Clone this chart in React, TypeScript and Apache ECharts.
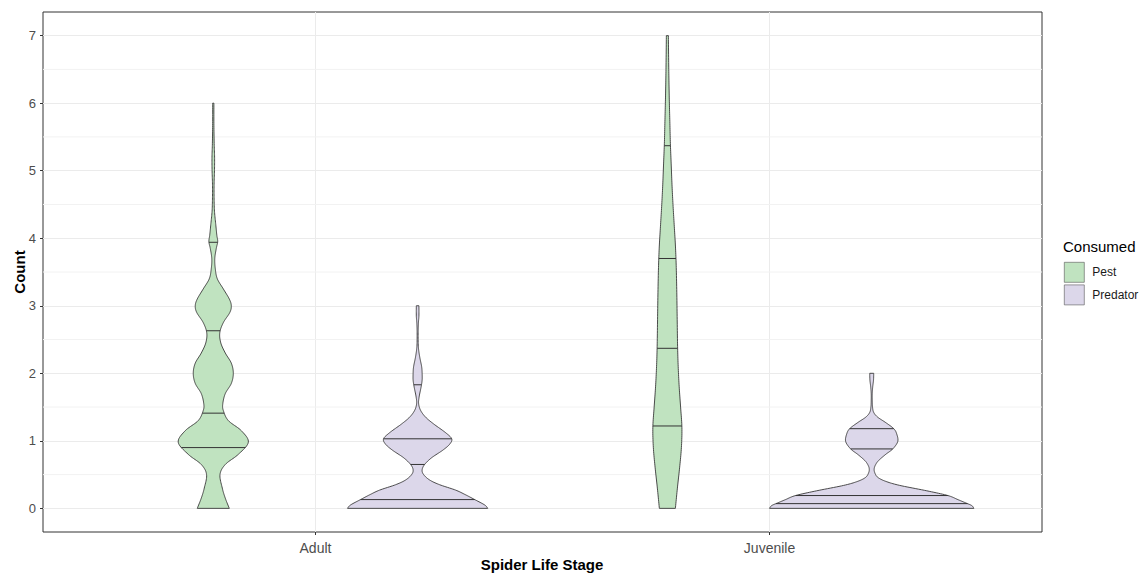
import React, { useEffect, useRef } from "react";
import * as echarts from "echarts";

// ---------- data ----------
const STAGES = ["Adult", "Juvenile"];
const GROUPS = ["Pest", "Predator"];
const Y_TICKS = [0, 1, 2, 3, 4, 5, 6, 7];
const Y_MINOR = [0.5, 1.5, 2.5, 3.5, 4.5, 5.5, 6.5];

// violin profiles: [count, relative half-width (density)]
const ADULT_PEST: [number, number][] = [
  [0, 16], [0.15, 12], [0.3, 9], [0.5, 6.7], [0.65, 12], [0.8, 25], [0.98, 35],
  [1.15, 28], [1.3, 15], [1.45, 10], [1.55, 9.5], [1.7, 12], [1.85, 18], [2.0, 20],
  [2.15, 18], [2.3, 12], [2.45, 7.5], [2.6, 6.5], [2.75, 10], [2.9, 16.5], [3.0, 18],
  [3.1, 16], [3.25, 10], [3.4, 4], [3.55, 2], [3.7, 1.5], [3.85, 3], [3.95, 4.4],
  [4.05, 3.5], [4.2, 2.5], [4.4, 1.2], [4.6, 0.8], [4.8, 0.8], [5.0, 1.2], [5.2, 1.3],
  [5.4, 0.9], [5.7, 0.6], [6.0, 0.6],
];
const ADULT_PREDATOR: [number, number][] = [
  [0, 70], [0.05, 67], [0.13, 57], [0.2, 48], [0.27, 38], [0.35, 22], [0.42, 12],
  [0.5, 6], [0.57, 4.5], [0.65, 7], [0.75, 14], [0.86, 25], [0.95, 32], [1.03, 34],
  [1.12, 28], [1.25, 16], [1.35, 8], [1.45, 3], [1.55, 1], [1.65, 1.5], [1.8, 3.5],
  [1.9, 4.5], [2.0, 4.5], [2.1, 4], [2.25, 2], [2.4, 0.7], [2.6, 0.5], [2.75, 0.8],
  [2.85, 1.3], [3.0, 1.3],
];
const JUVENILE_PEST: [number, number][] = [
  [0, 8], [0.3, 10], [0.6, 12.2], [0.9, 14], [1.2, 14.5], [1.5, 13.2], [1.8, 11.8],
  [2.1, 10.8], [2.4, 10.2], [2.8, 9.8], [3.2, 9.4], [3.6, 8.8], [3.9, 8], [4.2, 6.8],
  [4.5, 5.6], [4.8, 4.6], [5.1, 3.8], [5.4, 3], [5.7, 2.5], [6.0, 2], [6.3, 1.6],
  [6.6, 1.3], [7.0, 1],
];
const JUVENILE_PREDATOR: [number, number][] = [
  [0, 102], [0.04, 100], [0.08, 94], [0.13, 86], [0.19, 76], [0.26, 55], [0.34, 28],
  [0.4, 14], [0.46, 6], [0.53, 3], [0.59, 2.5], [0.65, 4], [0.71, 7], [0.8, 14],
  [0.88, 21], [0.99, 26], [1.1, 25], [1.18, 22], [1.27, 14], [1.35, 6], [1.42, 2],
  [1.5, 0.8], [1.6, 0.5], [1.7, 0.5], [1.8, 1], [1.9, 1.8], [2.0, 2],
];

// horizontal quantile lines inside each violin (count values)
const Q_ADULT_PEST = [0.9, 1.41, 2.63, 3.94];
const Q_ADULT_PREDATOR = [0.13, 0.65, 1.03, 1.83];
const Q_JUVENILE_PEST = [1.22, 2.37, 3.7, 5.37];
const Q_JUVENILE_PREDATOR = [0.07, 0.19, 0.88, 1.18];

const PROFILES: Record<string, [number, number][][]> = {
  Pest: [ADULT_PEST, JUVENILE_PEST],
  Predator: [ADULT_PREDATOR, JUVENILE_PREDATOR],
};
const QUANTILES: Record<string, number[][]> = {
  Pest: [Q_ADULT_PEST, Q_JUVENILE_PEST],
  Predator: [Q_ADULT_PREDATOR, Q_JUVENILE_PREDATOR],
};

// ---------- styling ----------
const FILLS: Record<string, string> = { Pest: "#C0E3C0", Predator: "#DCD7EA" };
const FONT = "'Liberation Sans', Arial, sans-serif";
const DODGE = 0.9;

const MAXD = Math.max(
  ...Object.values(PROFILES).flatMap((arr) => arr.flatMap((p) => p.map((d) => d[1])))
);

function cr(p0: number, p1: number, p2: number, p3: number, t: number) {
  const t2 = t * t;
  const t3 = t2 * t;
  return 0.5 * (2 * p1 + (-p0 + p2) * t + (2 * p0 - 5 * p1 + 4 * p2 - p3) * t2 + (-p0 + 3 * p1 - 3 * p2 + p3) * t3);
}

function dense(profile: [number, number][]) {
  const out: [number, number][] = [];
  const n = profile.length;
  for (let i = 0; i < n - 1; i++) {
    const a = profile[Math.max(0, i - 1)];
    const b = profile[i];
    const c = profile[i + 1];
    const d = profile[Math.min(n - 1, i + 2)];
    for (let k = 0; k < 10; k++) {
      const t = k / 10;
      const y = cr(a[0], b[0], c[0], d[0], t);
      const w = Math.max(0.35, cr(a[1], b[1], c[1], d[1], t));
      out.push([y, w]);
    }
  }
  out.push([profile[n - 1][0], Math.max(0.35, profile[n - 1][1])]);
  return out;
}

function widthAt(pts: [number, number][], y: number) {
  for (let i = 0; i < pts.length - 1; i++) {
    const [y0, w0] = pts[i];
    const [y1, w1] = pts[i + 1];
    if (y >= y0 && y <= y1) {
      const t = y1 === y0 ? 0 : (y - y0) / (y1 - y0);
      return w0 + (w1 - w0) * t;
    }
  }
  return pts[pts.length - 1][1];
}

function makeViolinSeries(group: string, gi: number) {
  const offset = (gi - 0.5) * (DODGE / 2);
  const halfMax = DODGE / 4;
  return {
    type: "custom",
    name: group,
    z: 3,
    clip: false,
    itemStyle: { color: FILLS[group], borderColor: "#555", borderWidth: 0.6 },
    data: STAGES.map((_, i) => [i + 1 + offset, 1]),
    renderItem: (params: any, api: any) => {
      const idx = params.dataIndex;
      const pts = dense(PROFILES[group][idx]);
      const cx = idx + 1 + offset;
      const sc = halfMax / MAXD;
      const right = pts.map(([y, w]) => api.coord([cx + w * sc, y]));
      const left = pts
        .slice()
        .reverse()
        .map(([y, w]) => api.coord([cx - w * sc, y]));
      const children: any[] = [
        {
          type: "polygon",
          shape: { points: right.concat(left) },
          style: { fill: FILLS[group], stroke: "#383838", lineWidth: 0.9 },
        },
      ];
      QUANTILES[group][idx].forEach((q) => {
        const w = widthAt(pts, q);
        const p1 = api.coord([cx - w * sc, q]);
        const p2 = api.coord([cx + w * sc, q]);
        children.push({
          type: "line",
          shape: { x1: p1[0], y1: p1[1], x2: p2[0], y2: p2[1] },
          style: { stroke: "#333", lineWidth: 1 },
        });
      });
      return { type: "group", children };
    },
  };
}

export default function App() {
  const ref = useRef<HTMLDivElement>(null);
  useEffect(() => {
    if (!ref.current) return;
    const chart = echarts.init(ref.current, undefined, { renderer: "svg" });
    const option: any = {
      animation: false,
      backgroundColor: "#ffffff",
      textStyle: { fontFamily: FONT },
      grid: {
        left: 43,
        top: 12,
        right: 103,
        bottom: 41,
        show: true,
        borderColor: "#333333",
        borderWidth: 1,
        backgroundColor: "transparent",
      },
      xAxis: {
        type: "value",
        min: 0.4,
        max: 2.6,
        axisLine: { show: false, onZero: false },
        axisTick: { show: true, length: 3, lineStyle: { color: "#333" }, customValues: [1, 2] },
        axisLabel: {
          show: true,
          customValues: [1, 2],
          formatter: (v: number) => STAGES[Math.round(v) - 1] ?? "",
          color: "#4D4D4D",
          fontSize: 14,
          margin: 9,
          fontFamily: FONT,
        },
        splitLine: { show: true, lineStyle: { color: "#EBEBEB", width: 1 } },
      },
      yAxis: {
        type: "value",
        min: -0.35,
        max: 7.35,
        axisLine: { show: false, onZero: false },
        axisTick: { show: true, length: 3, lineStyle: { color: "#333" }, customValues: Y_TICKS },
        axisLabel: {
          show: true,
          customValues: Y_TICKS,
          color: "#4D4D4D",
          fontSize: 13,
          margin: 7,
          fontFamily: FONT,
        },
        splitLine: { show: true, lineStyle: { color: "#EBEBEB", width: 1 } },
      },
      legend: {
        data: GROUPS,
        orient: "vertical",
        left: 1064,
        top: 262,
        padding: 0,
        itemWidth: 20,
        itemHeight: 20,
        itemGap: 2,
        icon: "rect",
        itemStyle: { borderColor: "#555", borderWidth: 0.6 },
        textStyle: { fontSize: 12, color: "#1a1a1a", fontFamily: FONT, padding: [0, 0, 0, 3] },
        selectedMode: false,
      },
      graphic: [
        {
          type: "text",
          left: 1063,
          top: 239,
          style: { text: "Consumed", fontSize: 15, fill: "#000", fontFamily: FONT },
        },
        {
          type: "text",
          x: 19,
          y: 272,
          rotation: Math.PI / 2,
          style: {
            text: "Count",
            fontSize: 15,
            fontWeight: "bold",
            fill: "#000",
            fontFamily: FONT,
            align: "center",
            verticalAlign: "middle",
          },
        },
        {
          type: "text",
          x: 542,
          y: 564,
          style: {
            text: "Spider Life Stage",
            fontSize: 15,
            fontWeight: "bold",
            fill: "#000",
            fontFamily: FONT,
            align: "center",
            verticalAlign: "middle",
          },
        },
      ],
      series: [
        {
          type: "custom",
          name: "minorGrid",
          z: 1,
          silent: true,
          data: Y_MINOR.map((v) => [1, v]),
          renderItem: (params: any, api: any) => {
            const cs = params.coordSys;
            const y = api.coord([1, api.value(1)])[1];
            return {
              type: "line",
              shape: { x1: cs.x, y1: y, x2: cs.x + cs.width, y2: y },
              style: { stroke: "#F2F2F2", lineWidth: 1 },
            };
          },
        },
        ...GROUPS.map((g, gi) => makeViolinSeries(g, gi)),
      ],
    };
    chart.setOption(option);
    return () => chart.dispose();
  }, []);
  return (
    <div
      ref={ref}
      style={{ position: "absolute", left: 0, top: 0, width: 1145, height: 573 }}
    />
  );
}
